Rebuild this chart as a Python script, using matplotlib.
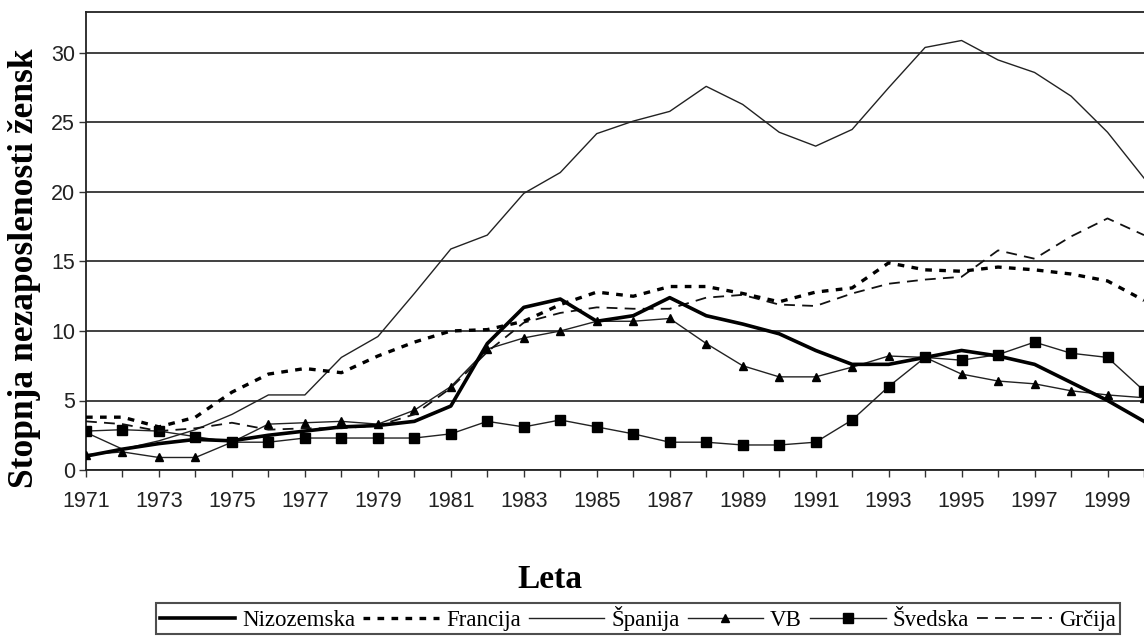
import matplotlib
matplotlib.use("Agg")
import matplotlib.pyplot as plt
import numpy as np

years = list(range(1971, 2001))
nizozemska = [1.0, 1.5, 1.9, 2.2, 2.1, 2.5, 2.8, 3.1, 3.2, 3.5, 4.6, 9.1, 11.7, 12.3, 10.7,
              11.1, 12.4, 11.1, 10.5, 9.8, 8.6, 7.6, 7.6, 8.1, 8.6, 8.2, 7.6, 6.3, 5.0, 3.5]
francija = [3.8, 3.8, 3.1, 3.8, 5.6, 6.9, 7.3, 7.0, 8.2, 9.2, 10.0, 10.1, 10.7, 11.9, 12.8,
            12.5, 13.2, 13.2, 12.7, 12.1, 12.8, 13.1, 14.9, 14.4, 14.3, 14.6, 14.4, 14.1, 13.6, 12.2]
spanija = [2.7, 1.5, 2.1, 2.9, 4.0, 5.4, 5.4, 8.1, 9.6, 12.7, 15.9, 16.9, 19.9, 21.4, 24.2,
           25.1, 25.8, 27.6, 26.3, 24.3, 23.3, 24.5, 27.5, 30.4, 30.9, 29.5, 28.6, 26.9, 24.3, 21.0]
vb = [1.1, 1.3, 0.9, 0.9, 2.0, 3.3, 3.4, 3.5, 3.3, 4.3, 6.0, 8.7, 9.5, 10.0, 10.7,
      10.7, 10.9, 9.1, 7.5, 6.7, 6.7, 7.4, 8.2, 8.1, 6.9, 6.4, 6.2, 5.7, 5.4, 5.2]
svedska = [2.8, 2.9, 2.8, 2.4, 2.0, 2.0, 2.3, 2.3, 2.3, 2.3, 2.6, 3.5, 3.1, 3.6, 3.1,
           2.6, 2.0, 2.0, 1.8, 1.8, 2.0, 3.6, 6.0, 8.1, 7.9, 8.3, 9.2, 8.4, 8.1, 5.7]
grcija = [3.5, 3.3, 2.8, 3.0, 3.4, 2.9, 3.0, 3.0, 3.2, 4.0, 5.9, 8.5, 10.6, 11.3, 11.7,
          11.6, 11.6, 12.4, 12.6, 11.9, 11.8, 12.7, 13.4, 13.7, 13.9, 15.8, 15.2, 16.8, 18.1, 16.9]

yticks = [0, 5, 10, 15, 20, 25, 30]

fig = plt.figure(figsize=(11.44, 6.37), dpi=100)
ax = fig.add_axes([86/1144, 1 - 470/637, 1 - 86/1144, (470 - 12)/637])

ax.plot(years, nizozemska, color='black', lw=2.6, label='Nizozemska', zorder=5)
ax.plot(years, francija, color='black', lw=2.4, linestyle=(0, (2.0, 2.2)), label='Francija', zorder=4)
ax.plot(years, spanija, color='#222222', lw=1.0, label='Španija', zorder=3)
ax.plot(years, vb, color='#222222', lw=1.0, marker='^', ms=6, mfc='black', mec='black', label='VB', zorder=3)
ax.plot(years, svedska, color='#222222', lw=1.0, marker='s', ms=6.5, mfc='black', mec='black', label='Švedska', zorder=3)
ax.plot(years, grcija, color='#111111', lw=1.3, linestyle=(0, (6, 4)), label='Grčija', zorder=3)

ax.set_xlim(1971, 1971 + (1144 - 86) / 36.81)
ax.set_ylim(0, 458 / 13.9)
ax.set_xticks(years)
ax.set_xticklabels([str(y) if (y - 1971) % 2 == 0 else '' for y in years])
ax.set_yticks(yticks)
ax.grid(axis='y', color='#404040', lw=1.4)
ax.set_axisbelow(True)
ax.tick_params(axis='both', direction='out', length=5, width=1, color='#333333',
               labelsize=15.5)
ax.tick_params(axis='x', pad=10)
ax.tick_params(axis='y', pad=3)
for lab in ax.get_xticklabels() + ax.get_yticklabels():
    lab.set_family('Liberation Sans')
    lab.set_color('#222222')
ax.spines['right'].set_visible(False)
for s in ['left', 'top', 'bottom']:
    ax.spines[s].set_color('#222222')
    ax.spines[s].set_linewidth(1.3)

fig.text(25/1144, 1 - 268/637, 'Stopnja nezaposlenosti žensk', rotation=90,
         ha='center', va='center', fontsize=25.5, fontweight='bold', family='Liberation Serif')
fig.text(550/1144, 1 - 580/637, 'Leta', ha='center', va='center', fontsize=24,
         fontweight='bold', family='Liberation Serif')

leg = fig.legend(loc='center', bbox_to_anchor=(638/1144, 1 - 618.5/637), ncol=6,
                 frameon=True, fancybox=False, edgecolor='#222222',
                 prop={'family': 'Liberation Serif', 'size': 16.5},
                 handlelength=3.3, handletextpad=0.3, columnspacing=0.35,
                 borderpad=0.15, borderaxespad=0)
leg.get_frame().set_linewidth(1.5)

fig.savefig('out.png', dpi=100)
